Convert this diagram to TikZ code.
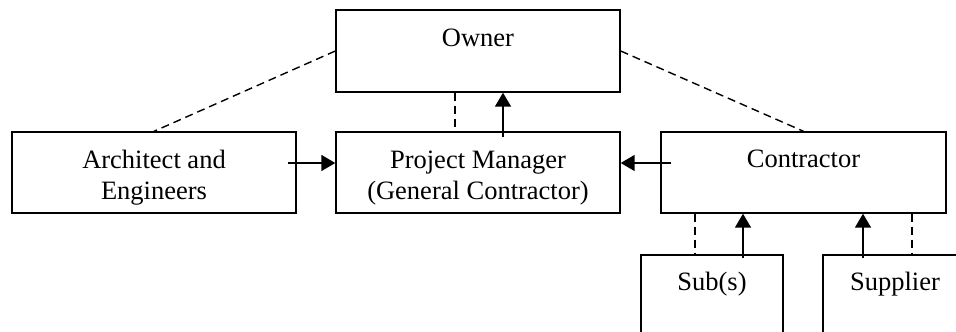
\documentclass[tikz,border=0pt]{standalone}
\usepackage{fontspec}
\setmainfont{Liberation Serif}
\usetikzlibrary{arrows.meta}
\tikzset{
	box/.style={draw, line width=1.4pt, minimum width=284pt, minimum height=81pt, inner sep=0pt},
	smallbox/.style={box, minimum width=142pt, minimum height=120pt},
	lbl/.style={font=\fontsize{26.5}{31}\selectfont, inner sep=0pt, align=center, anchor=base},
	link/.style={line width=1.4pt, dash pattern=on 8pt off 5pt},
	pay/.style={line width=1.6pt, -{Triangle[length=14pt,width=16pt]}}
}
\begin{document}
\begin{tikzpicture}[x=1pt,y=-1pt]
	\clip (0,0) rectangle (956,332);
		\node[box, minimum height=82pt] (owner) at (478,51) {};
		\node[box] (arch) at (154,172.5) {};
		\node[box] (pm) at (478,172.5) {};
		\node[box, minimum width=285pt] (contr) at (803.5,172.5) {};
		\node[smallbox] (sub) at (712,315) {};
		\node[smallbox] (supp) at (894,315) {};
			\node[lbl] (ownertxt) at (478,46) {Owner};
			\node[lbl] (archtxt) at (154,199) {Architect and\\Engineers};
			\node[lbl] (pmtxt) at (478,199) {Project Manager\\(General Contractor)};
			\node[lbl] (contrtxt) at (803.5,167) {Contractor};
			\node[lbl] (subtxt) at (712,290) {Sub(s)};
			\node[lbl] (supptxt) at (895,290) {Supplier};
		\draw[link] (owner.west) -- (arch.north);
		\draw[link] (owner.east) -- (contr.north);
		\draw[link] ([xshift=-23pt]owner.south) -- ([xshift=-23pt]pm.north);
		\draw[pay] ([xshift=25pt,yshift=-6pt]pm.north) -- ([xshift=25pt]owner.south);
		\draw[pay] ([xshift=-9pt,yshift=9.5pt]arch.east) -- ([yshift=9.5pt]pm.west);
		\draw[pay] ([xshift=11pt,yshift=9.5pt]contr.west) -- ([yshift=9.5pt]pm.east);
			\coordinate (subdash) at ([xshift=-17pt]sub.north);
			\coordinate (subpay) at ([xshift=31pt,yshift=-4pt]sub.north);
			\coordinate (suppdash) at ([xshift=18pt]supp.north);
			\coordinate (supppay) at ([xshift=-31pt,yshift=-4pt]supp.north);
		\draw[link] (contr.south -| subdash) -- (subdash);
		\draw[pay] (subpay) -- (contr.south -| subpay);
		\draw[pay] (supppay) -- (contr.south -| supppay);
		\draw[link] (contr.south -| suppdash) -- (suppdash);
\end{tikzpicture}
\end{document}
